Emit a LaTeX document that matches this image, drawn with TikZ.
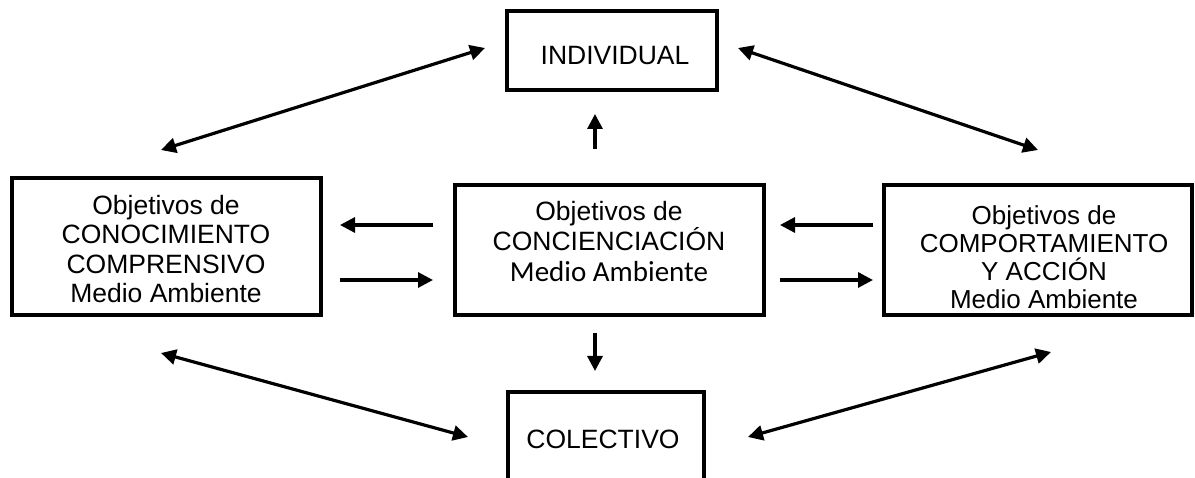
\documentclass[tikz,border=0pt]{standalone}
\usepackage{fontspec}
\setmainfont{Liberation Sans}
\newfontfamily\calibfont{Carlito}
\usetikzlibrary{arrows.meta}
\tikzset{
  boxframe/.style={draw, line width=3.8pt, inner sep=0pt},
  txt/.style={inner sep=0pt, align=center, font=\fontsize{26.5}{29.5}\selectfont},
  onearrow/.style={line width=3.2pt, -{Triangle[length=15pt,width=15pt]}},
  twoarrow/.style={line width=3.2pt, {Triangle[length=15pt,width=15pt]}-{Triangle[length=15pt,width=15pt]}}
}
\begin{document}
\begin{tikzpicture}[x=1pt,y=-1pt]
\useasboundingbox (0,0) rectangle (1195,478);
\clip (0,0) rectangle (1195,478);
% boxes
\node[boxframe, minimum width=210pt, minimum height=79pt] (ind) at (612,50.5) {};
\node[boxframe, minimum width=309pt, minimum height=137pt] (left) at (166.5,246.5) {};
\node[boxframe, minimum width=309pt, minimum height=130pt] (mid) at (609.5,250) {};
\node[boxframe, minimum width=308pt, minimum height=130pt] (right) at (1038,250) {};
\node[boxframe, minimum width=196pt, minimum height=140pt] (col) at (606,462) {};
% texts
\node[txt, anchor=base] (indt) at (615,65) {INDIVIDUAL};
\node[txt, anchor=base] (colt) at (603,448) {COLECTIVO};
\node[txt] (leftt) at (166,249) {Objetivos de\\CONOCIMIENTO\\COMPRENSIVO\\Medio Ambiente};
\node[txt] (midt) at (609,242) {Objetivos de\\CONCIENCIACIÓN\\[2pt]{\calibfont\fontsize{29}{33}\selectfont Medio Ambiente}};
\node[txt, font=\fontsize{26}{28}\selectfont] (rightt) at (1044,257) {Objetivos de\\COMPORTAMIENTO\\Y ACCIÓN\\Medio Ambiente};
% arrow end points
\coordinate (u1) at (595,149); \coordinate (u2) at (595,114);
\coordinate (d1) at (595,333); \coordinate (d2) at (595,371);
\coordinate (l1a) at (433,225); \coordinate (l1b) at (340,225);
\coordinate (l2a) at (340,280); \coordinate (l2b) at (433,280);
\coordinate (r1a) at (873,225); \coordinate (r1b) at (780,225);
\coordinate (r2a) at (780,280); \coordinate (r2b) at (873,280);
\coordinate (tla) at (161,150); \coordinate (tlb) at (485,48);
\coordinate (tra) at (738,48); \coordinate (trb) at (1038,150);
\coordinate (bla) at (161,353); \coordinate (blb) at (468,437);
\coordinate (bra) at (748,437); \coordinate (brb) at (1051,352);
% arrows
\draw[onearrow] (u1) -- (u2);
\draw[onearrow] (d1) -- (d2);
\draw[onearrow] (l1a) -- (l1b);
\draw[onearrow] (l2a) -- (l2b);
\draw[onearrow] (r1a) -- (r1b);
\draw[onearrow] (r2a) -- (r2b);
\draw[twoarrow] (tla) -- (tlb);
\draw[twoarrow] (tra) -- (trb);
\draw[twoarrow] (bla) -- (blb);
\draw[twoarrow] (bra) -- (brb);
\end{tikzpicture}
\end{document}
